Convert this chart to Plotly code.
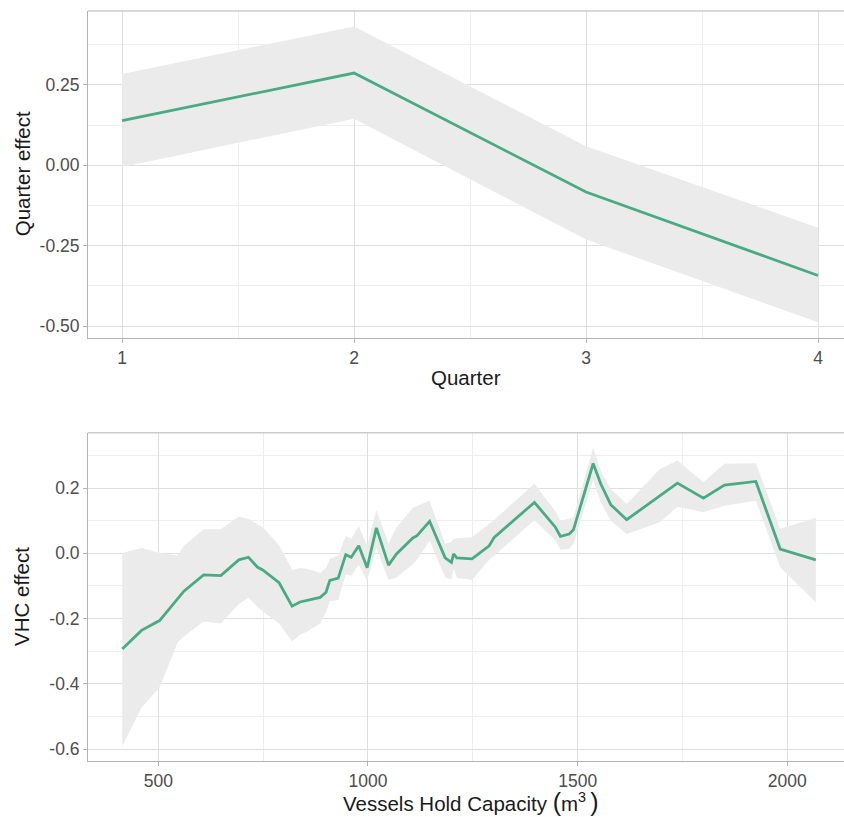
import plotly.graph_objects as go

# ---------------- data ----------------
quarter = [1, 2, 3, 4]
quarter_effect = [0.139, 0.287, -0.083, -0.343]
quarter_upper = [0.284, 0.432, 0.059, -0.194]
quarter_lower = [-0.005, 0.145, -0.231, -0.488]

vhc = [414, 460, 503, 546, 561, 608, 649, 692, 715, 736, 749, 788, 819, 838, 854,
       886, 900, 909, 929, 947, 960, 978, 998, 1020, 1049, 1068, 1107, 1117, 1147,
       1184, 1199, 1204, 1212, 1248, 1289, 1301, 1397, 1447, 1459, 1480, 1490, 1537,
       1555, 1579, 1617, 1696, 1738, 1800, 1850, 1925, 1983, 2068]
vhc_effect = [-0.293, -0.236, -0.206, -0.140, -0.116, -0.066, -0.068, -0.020, -0.012,
              -0.042, -0.051, -0.090, -0.162, -0.149, -0.145, -0.135, -0.119, -0.083,
              -0.076, -0.004, -0.012, 0.023, -0.044, 0.078, -0.036, -0.002, 0.047,
              0.054, 0.098, -0.014, -0.028, -0.002, -0.014, -0.017, 0.023, 0.049,
              0.156, 0.080, 0.052, 0.059, 0.072, 0.275, 0.213, 0.149, 0.103, 0.176,
              0.215, 0.169, 0.209, 0.220, 0.013, -0.020]
vhc_upper = [0.001, 0.016, 0.001, -0.007, 0.023, 0.074, 0.074, 0.113, 0.105, 0.090,
             0.080, 0.025, -0.051, -0.045, -0.047, -0.060, -0.045, -0.017, -0.008,
             0.052, 0.045, 0.083, 0.023, 0.133, 0.030, 0.080, 0.139, 0.145, 0.161,
             0.029, 0.035, 0.044, 0.046, 0.049, 0.090, 0.102, 0.213, 0.129, 0.100,
             0.106, 0.110, 0.323, 0.253, 0.197, 0.151, 0.258, 0.284, 0.218, 0.274,
             0.276, 0.075, 0.108]
vhc_lower = [-0.590, -0.472, -0.411, -0.273, -0.255, -0.209, -0.215, -0.155, -0.135,
             -0.164, -0.178, -0.215, -0.270, -0.249, -0.240, -0.215, -0.180, -0.147,
             -0.143, -0.064, -0.069, -0.035, -0.084, 0.016, -0.082, -0.074, -0.033,
             -0.020, 0.039, -0.074, -0.079, -0.045, -0.075, -0.082, -0.020, -0.007,
             0.102, 0.039, 0.011, 0.013, 0.029, 0.225, 0.156, 0.100, 0.059, 0.095,
             0.143, 0.126, 0.146, 0.161, -0.043, -0.150]

q_xticks = [1, 2, 3, 4]
q_xticktext = ["1", "2", "3", "4"]
q_yticks = [-0.50, -0.25, 0.00, 0.25]
q_yticktext = ["-0.50", "-0.25", "0.00", "0.25"]
v_xticks = [500, 1000, 1500, 2000]
v_xticktext = ["500", "1000", "1500", "2000"]
v_yticks = [-0.6, -0.4, -0.2, 0.0, 0.2]
v_yticktext = ["-0.6", "-0.4", "-0.2", "0.0", "0.2"]

# ---------------- style ----------------
LINE = "#48AB86"
RIBBON = "#EBEBEB"
GRID = "#DEDEDE"
GRID_MINOR = "#EEEEEE"
BORDER = "#B3B3B3"
FONT = "Liberation Sans, Arial, sans-serif"

W, H = 844, 817
ML, MR, MT, MB = 88, 0, 10.7, 56
PH = H - MT - MB
top_dom = [(761 - 337.4) / PH, 1.0]
bot_dom = [0.0, (761 - 432.7) / PH]

fig = go.Figure()

# top panel
fig.add_trace(go.Scatter(x=quarter, y=quarter_lower, mode="lines", line=dict(width=0),
                         hoverinfo="skip", showlegend=False, xaxis="x", yaxis="y"))
fig.add_trace(go.Scatter(x=quarter, y=quarter_upper, mode="lines", line=dict(width=0),
                         fill="tonexty", fillcolor=RIBBON, hoverinfo="skip",
                         showlegend=False, xaxis="x", yaxis="y"))
fig.add_trace(go.Scatter(x=quarter, y=quarter_effect, mode="lines",
                         line=dict(color=LINE, width=2.8), showlegend=False,
                         xaxis="x", yaxis="y"))

# bottom panel
fig.add_trace(go.Scatter(x=vhc, y=vhc_lower, mode="lines", line=dict(width=0),
                         hoverinfo="skip", showlegend=False, xaxis="x2", yaxis="y2"))
fig.add_trace(go.Scatter(x=vhc, y=vhc_upper, mode="lines", line=dict(width=0),
                         fill="tonexty", fillcolor=RIBBON, hoverinfo="skip",
                         showlegend=False, xaxis="x2", yaxis="y2"))
fig.add_trace(go.Scatter(x=vhc, y=vhc_effect, mode="lines",
                         line=dict(color=LINE, width=2.8), showlegend=False,
                         xaxis="x2", yaxis="y2"))

def axis_common(**kw):
    d = dict(showgrid=True, gridcolor=GRID, gridwidth=1, zeroline=False,
             showline=True, linecolor=BORDER, linewidth=1,
             ticks="outside", ticklen=4, tickcolor=BORDER, tickwidth=1,
             tickfont=dict(family=FONT, size=17.5, color="#4D4D4D"),
             tickmode="array", fixedrange=True, automargin=False)
    d.update(kw)
    return d

title_font = dict(family=FONT, size=20.5, color="#1A1A1A")

fig.update_layout(
    width=W, height=H,
    margin=dict(l=ML, r=MR, t=MT, b=MB, pad=0, autoexpand=False),
    paper_bgcolor="white", plot_bgcolor="white",
    font=dict(family=FONT),
    xaxis=axis_common(domain=[0, 1], anchor="y", range=[0.853, 4.112],
                      tickvals=q_xticks, ticktext=q_xticktext,
                      minor=dict(showgrid=True, gridcolor=GRID_MINOR, gridwidth=1,
                                 tickmode="linear", tick0=0.5, dtick=0.5)),
    yaxis=axis_common(domain=top_dom, anchor="x", range=[-0.536, 0.480],
                      tickvals=q_yticks, ticktext=q_yticktext,
                      minor=dict(showgrid=True, gridcolor=GRID_MINOR, gridwidth=1,
                                 tickmode="linear", tick0=0.125, dtick=0.25)),
    xaxis2=axis_common(domain=[0, 1], anchor="y2", range=[332.3, 2135.2],
                       tickvals=v_xticks, ticktext=v_xticktext,
                       minor=dict(showgrid=True, gridcolor=GRID_MINOR, gridwidth=1,
                                  tickmode="linear", tick0=250, dtick=500)),
    yaxis2=axis_common(domain=bot_dom, anchor="x2", range=[-0.636, 0.369],
                       tickvals=v_yticks, ticktext=v_yticktext,
                       minor=dict(showgrid=True, gridcolor=GRID_MINOR, gridwidth=1,
                                  tickmode="linear", tick0=0.1, dtick=0.2)),
)

# top borders of each panel (panels are cut off on the right)
for dom in (top_dom, bot_dom):
    fig.add_shape(type="line", xref="paper", yref="paper", x0=0, x1=1,
                  y0=dom[1], y1=dom[1], line=dict(color=BORDER, width=1))

def py2paper(py):
    return (H - MB - py) / PH

pw = W - ML - MR
# y-axis titles
for dom, txt in ((top_dom, "Quarter effect"), (bot_dom, "VHC effect")):
    fig.add_annotation(text=txt, textangle=-90, xref="paper", yref="paper",
                       x=(22 - ML) / pw, y=(dom[0] + dom[1]) / 2,
                       xanchor="center", yanchor="middle", showarrow=False,
                       font=title_font)
# x-axis titles
fig.add_annotation(text="Quarter", xref="paper", yref="paper",
                   x=(466 - ML) / pw, y=py2paper(377), xanchor="center",
                   yanchor="middle", showarrow=False, font=title_font)
fig.add_annotation(
    text='Vessels Hold Capacity <span style="font-size:25px">(</span>m<sup>3</sup>\u2009<span style="font-size:25px">)</span>',
    xref="paper", yref="paper", x=(470 - ML) / pw, y=py2paper(802),
    xanchor="center", yanchor="middle", showarrow=False, font=title_font)

fig.write_html("out.html", config={"displayModeBar": False},
               post_script="document.body.style.margin='0';document.body.style.overflow='hidden';")
